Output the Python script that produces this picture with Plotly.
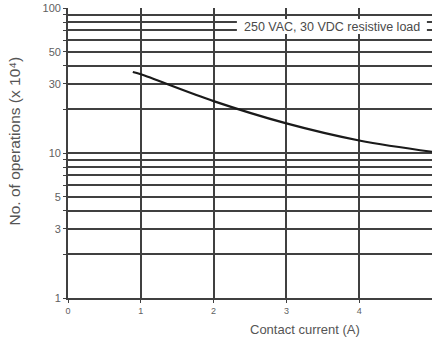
import plotly.graph_objects as go

# Data
current_a = [0.89, 1, 2, 3, 4, 5]
operations_1e4 = [36.2, 34.9, 22.8, 16.0, 12.2, 10.2]

x_ticks = [0, 1, 2, 3, 4, 5]
y_grid = [1, 2, 3, 4, 5, 6, 7, 8, 9, 10, 20, 30, 40, 50, 60, 70, 80, 90, 100]
y_labelled = [1, 3, 5, 10, 30, 50, 100]
y_ticktext = [str(v) if v in y_labelled else "" for v in y_grid]

fig = go.Figure()
fig.add_trace(go.Scatter(
    x=current_a, y=operations_1e4, mode="lines",
    line=dict(color="#1a1a1a", width=2.2, shape="spline"),
    hoverinfo="skip", showlegend=False,
))

grid_col = "#404040"
fig.update_layout(
    width=432, height=346,
    margin=dict(l=68, r=0, t=8, b=48),
    paper_bgcolor="white", plot_bgcolor="white",
    font=dict(family="Liberation Sans, Arial, sans-serif", color="#555555"),
    xaxis=dict(
        range=[0, 5], tickvals=x_ticks, ticktext=[str(v) for v in x_ticks],
        showgrid=True, gridcolor=grid_col, gridwidth=1.7,
        showline=True, linecolor=grid_col, linewidth=1.8,
        ticks="outside", ticklen=3, tickcolor=grid_col,
        tickfont=dict(size=9, color="#606060"), zeroline=False,
    ),
    yaxis=dict(
        type="log", range=[0, 2], tickvals=y_grid, ticktext=y_ticktext,
        showgrid=True, gridcolor=grid_col, gridwidth=1.7,
        showline=True, linecolor=grid_col, linewidth=1.8,
        ticks="outside", ticklen=3, tickcolor=grid_col,
        tickfont=dict(size=11, color="#606060"), zeroline=False,
    ),
    shapes=[dict(
        type="rect", xref="paper", yref="paper",
        x0=0.464, x1=0.986, y0=0.91, y1=0.962,
        fillcolor="white", line=dict(width=0), layer="above",
    )],
    annotations=[
        dict(text="250 VAC, 30 VDC resistive load", xref="paper", yref="paper",
             x=0.725, y=0.936, showarrow=False, xanchor="center", yanchor="middle",
             font=dict(size=12.5, color="#4a4a4a")),
        dict(text="Contact current (A)", xref="paper", yref="paper",
             x=0.651, y=-0.075, showarrow=False, xanchor="center", yanchor="top",
             font=dict(size=13, color="#555555")),
        dict(text="No. of operations (x 10⁴)", xref="paper", yref="paper",
             x=-0.148, y=0.54, showarrow=False, xanchor="center", yanchor="middle",
             textangle=-90, font=dict(size=15.5, color="#555555")),
    ],
)

fig.write_html("out.html", config={"displayModeBar": False},
               post_script="document.body.style.margin='0';")
